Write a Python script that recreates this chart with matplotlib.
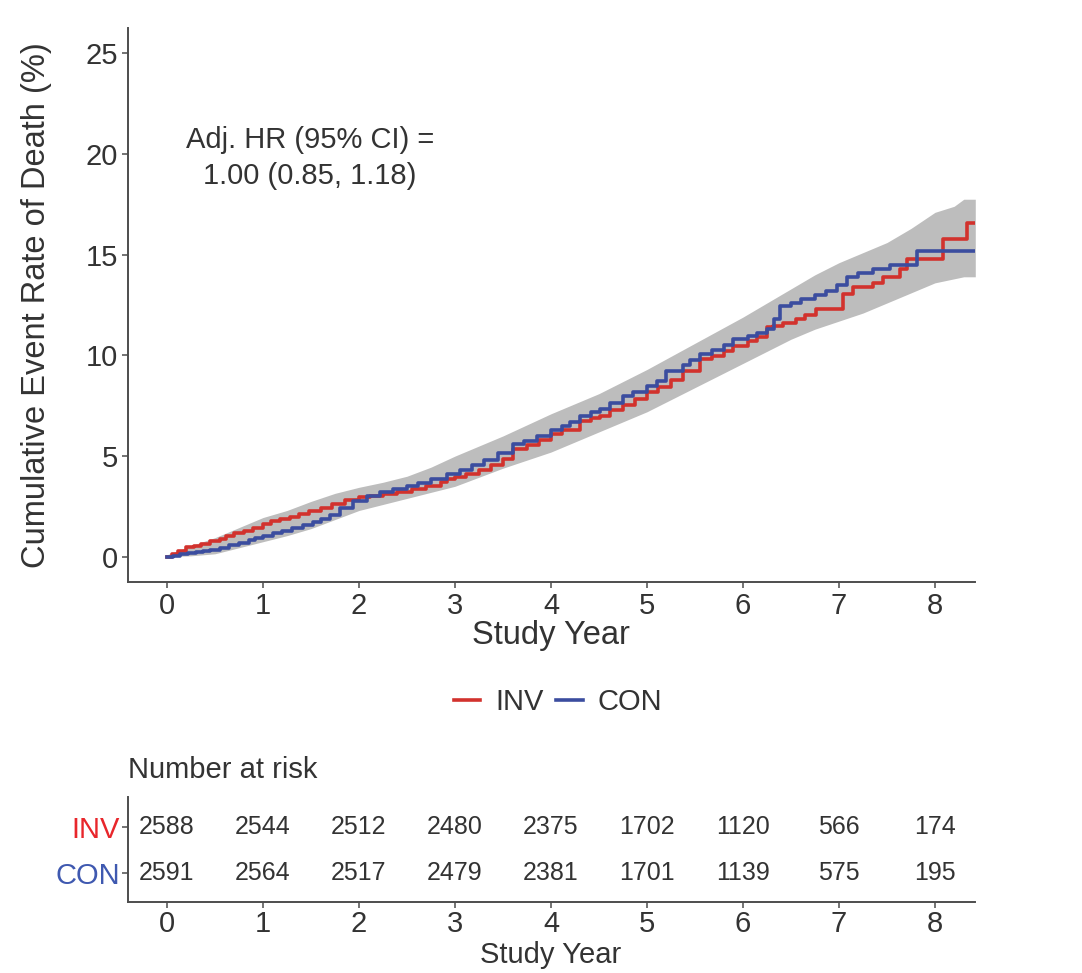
import matplotlib
matplotlib.use("Agg")
import matplotlib.pyplot as plt
from matplotlib.lines import Line2D

plt.rcParams['font.family'] = ['Liberation Sans', 'DejaVu Sans']

# ---- Kaplan-Meier style cumulative event curves (step knots) ----
inv_time = [0, 0.05, 0.12, 0.2, 0.28, 0.35, 0.45, 0.55, 0.62, 0.7, 0.8, 0.9,
            1.0, 1.08, 1.18, 1.28, 1.38, 1.48, 1.6, 1.72, 1.85, 2.0, 2.12,
            2.25, 2.4, 2.55, 2.7, 2.85, 2.92, 3.0, 3.12, 3.25, 3.38, 3.5, 3.6,
            3.75, 3.88, 4.0, 4.12, 4.3, 4.42, 4.51, 4.62, 4.75, 4.88, 5.0,
            5.12, 5.25, 5.375, 5.55, 5.68, 5.8, 5.9, 6.05, 6.15, 6.25, 6.31,
            6.42, 6.55, 6.65, 6.76, 6.94, 7.04, 7.15, 7.35, 7.46, 7.64, 7.71,
            8.08, 8.33, 8.42]
inv_rate = [0, 0.15, 0.3, 0.5, 0.55, 0.65, 0.8, 0.9, 1.05, 1.2, 1.3, 1.45,
            1.64, 1.8, 1.9, 2.0, 2.12, 2.25, 2.4, 2.6, 2.82, 2.98, 3.02,
            3.1, 3.2, 3.35, 3.5, 3.7, 3.85, 3.95, 4.1, 4.3, 4.55, 4.85, 5.35,
            5.55, 5.8, 6.1, 6.3, 6.75, 6.9, 7.0, 7.3, 7.55, 7.85, 8.2,
            8.45, 8.8, 9.2, 9.8, 9.95, 10.2, 10.45, 10.7, 10.9, 11.4, 11.46,
            11.6, 11.8, 12.0, 12.3, 12.3, 13.05, 13.4, 13.6, 13.9, 14.3, 14.8,
            15.77, 16.57, 16.57]

con_time = [0, 0.06, 0.14, 0.22, 0.3, 0.38, 0.45, 0.55, 0.65, 0.75, 0.85,
            0.92, 1.0, 1.1, 1.2, 1.3, 1.42, 1.52, 1.6, 1.7, 1.8, 1.94, 2.08,
            2.22, 2.35, 2.5, 2.62, 2.75, 2.92, 3.05, 3.18, 3.3, 3.45, 3.6,
            3.72, 3.85, 4.0, 4.12, 4.2, 4.3, 4.42, 4.51, 4.62, 4.75, 4.85,
            5.0, 5.1, 5.2, 5.375, 5.45, 5.55, 5.68, 5.8, 5.9, 6.05, 6.15,
            6.25, 6.32, 6.39, 6.5, 6.6, 6.75, 6.87, 6.98, 7.08, 7.2, 7.35,
            7.53, 7.81, 8.42]
con_rate = [0, 0.05, 0.12, 0.18, 0.25, 0.28, 0.32, 0.45, 0.6, 0.7, 0.85,
            0.95, 1.04, 1.2, 1.3, 1.45, 1.6, 1.75, 1.9, 2.1, 2.4, 2.78, 3.0,
            3.22, 3.35, 3.5, 3.65, 3.85, 4.1, 4.3, 4.55, 4.8, 5.15, 5.6,
            5.75, 6.0, 6.3, 6.5, 6.7, 7.0, 7.2, 7.34, 7.65, 8.0, 8.2,
            8.5, 8.75, 9.2, 9.5, 9.75, 10.07, 10.25, 10.5, 10.8, 10.95, 11.1,
            11.3, 11.8, 12.45, 12.6, 12.8, 13.0, 13.2, 13.5, 13.9, 14.1, 14.3,
            14.5, 15.18, 15.18]

# ---- Grey confidence region around both curves ----
band_time = [0, 0.25, 0.5, 0.75, 1.0, 1.25, 1.5, 1.75, 2.0, 2.25, 2.5, 2.75,
             3.0, 3.25, 3.5, 3.75, 4.0, 4.25, 4.5, 4.75, 5.0, 5.25, 5.5,
             5.75, 6.0, 6.25, 6.5, 6.75, 7.0, 7.25, 7.5, 7.75, 8.0, 8.2,
             8.3, 8.42]
band_upper = [0.1, 0.55, 0.95, 1.45, 1.95, 2.3, 2.75, 3.15, 3.45, 3.7, 4.0,
              4.45, 5.0, 5.5, 6.0, 6.55, 7.1, 7.6, 8.1, 8.7, 9.3, 9.95, 10.6,
              11.25, 11.9, 12.6, 13.3, 14.0, 14.6, 15.1, 15.6, 16.3, 17.1,
              17.4, 17.75, 17.75]
band_lower = [0, 0.05, 0.15, 0.45, 0.75, 1.05, 1.4, 1.85, 2.3, 2.6, 2.9,
              3.2, 3.5, 3.95, 4.4, 4.8, 5.2, 5.7, 6.2, 6.7, 7.2, 7.8, 8.4,
              9.0, 9.6, 10.2, 10.8, 11.3, 11.7, 12.1, 12.6, 13.1, 13.6, 13.8,
              13.9, 13.9]

# ---- Number at risk table ----
risk_years = [0, 1, 2, 3, 4, 5, 6, 7, 8]
inv_at_risk = [2588, 2544, 2512, 2480, 2375, 1702, 1120, 566, 174]
con_at_risk = [2591, 2564, 2517, 2479, 2381, 1701, 1139, 575, 195]

groups = ["INV", "CON"]
y_ticks = [0, 5, 10, 15, 20, 25]
x_ticks = [0, 1, 2, 3, 4, 5, 6, 7, 8]

INV_LINE = "#d2322d"
CON_LINE = "#3b4d9f"
INV_TEXT = "#e8262b"
CON_TEXT = "#3f59b0"
BAND = "#bdbdbd"
AXIS = "#4d4d4d"
TEXT = "#333333"

fig = plt.figure(figsize=(10.82, 9.73), dpi=100)

# ---------------- main panel ----------------
ax = fig.add_axes([0.1183, 0.40185, 0.7828, 0.56937])
ax.fill_between(band_time, band_lower, band_upper, color=BAND, lw=0, zorder=1)
ax.step(inv_time, inv_rate, where="post", color=INV_LINE, lw=2.6, zorder=3)
ax.step(con_time, con_rate, where="post", color=CON_LINE, lw=2.6, zorder=3)

ax.set_xlim(-0.406, 8.417)
ax.set_ylim(-1.25, 26.25)
ax.set_xticks(x_ticks)
ax.set_yticks(y_ticks)
for s in ["top", "right"]:
    ax.spines[s].set_visible(False)
for s in ["left", "bottom"]:
    ax.spines[s].set_color(AXIS)
    ax.spines[s].set_linewidth(1.4)
ax.tick_params(direction="out", length=4, width=1.1, color=AXIS,
               labelsize=21, labelcolor=TEXT, pad=3)

ax.text(1.49, 19.8, "Adj. HR (95% CI) =\n1.00 (0.85, 1.18)", ha="center",
        va="center", multialignment="center", fontsize=21, color=TEXT,
        linespacing=1.4)

fig.text(0.034, 0.6865, "Cumulative Event Rate of Death (%)", rotation=90,
         ha="center", va="center", fontsize=23.5, color=TEXT)
fig.text(0.5092, 0.3464, "Study Year", ha="center", va="center",
         fontsize=23.5, color=TEXT)

handles = [Line2D([0], [0], color=INV_LINE, lw=2.6),
           Line2D([0], [0], color=CON_LINE, lw=2.6)]
fig.legend(handles, groups, loc="center", bbox_to_anchor=(0.5157, 0.2785),
           ncol=2, frameon=False, fontsize=21, handlelength=0.9,
           handletextpad=0.5, columnspacing=0.45, labelcolor=TEXT)

# ---------------- risk table ----------------
rt = fig.add_axes([0.1183, 0.0730, 0.7828, 0.1079])
rt.set_xlim(-0.406, 8.417)
rt.set_ylim(0.37, 2.65)
for yr, n in zip(risk_years, inv_at_risk):
    rt.text(yr, 2, str(n), ha="center", va="center", fontsize=18, color=TEXT)
for yr, n in zip(risk_years, con_at_risk):
    rt.text(yr, 1, str(n), ha="center", va="center", fontsize=18, color=TEXT)
rt.set_xticks(x_ticks)
rt.set_yticks([2, 1])
rt.set_yticklabels(groups)
for lbl, c in zip(rt.get_yticklabels(), [INV_TEXT, CON_TEXT]):
    lbl.set_color(c)
for s in ["top", "right"]:
    rt.spines[s].set_visible(False)
for s in ["left", "bottom"]:
    rt.spines[s].set_color(AXIS)
    rt.spines[s].set_linewidth(1.4)
rt.tick_params(direction="out", length=4, width=1.1, color=AXIS,
               labelsize=21, pad=2)
rt.tick_params(axis="x", labelcolor=TEXT)

fig.text(0.1183, 0.2086, "Number at risk", ha="left", va="center",
         fontsize=21, color=TEXT)
fig.text(0.5092, 0.0185, "Study Year", ha="center", va="center",
         fontsize=21, color=TEXT)

fig.savefig("out.png", dpi=100, facecolor="white")
